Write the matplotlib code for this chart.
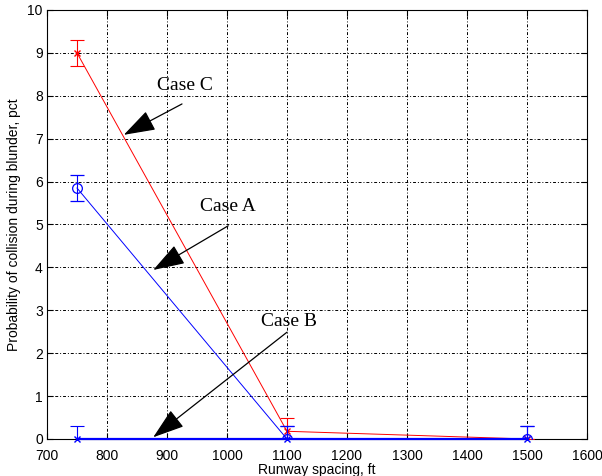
import matplotlib
matplotlib.use("Agg")
import matplotlib.pyplot as plt

spacing = [750, 1100, 1500]
case_c = [9.0, 0.18, 0.0]
case_c_err = [0.3, 0.3, 0.0]
case_a = [5.85, 0.0, 0.0]
case_a_err = [0.3, 0.3, 0.3]
case_b = [0.0, 0.0, 0.0]
case_b_err = [0.3, 0.3, 0.3]

xticks = [700, 800, 900, 1000, 1100, 1200, 1300, 1400, 1500, 1600]
yticks = list(range(0, 11))

# annotations: label, text position, arrow start, arrow tip
annots = [
    ("Case C", (930, 8.23), (925, 7.81), (828, 7.09)),
    ("Case A", (1002, 5.43), (1002, 4.97), (877, 3.94)),
    ("Case B", (1103, 2.73), (1100, 2.49), (877, 0.04)),
]

fig = plt.figure(figsize=(6.02, 4.76), dpi=100)
ax = fig.add_axes([47/602, 37/476, 540/602, 429/476])

ax.errorbar(spacing, case_c, yerr=case_c_err, color='red', marker='x', ms=4,
            lw=0.7, elinewidth=0.8, capsize=5, capthick=0.8, zorder=3)
ax.errorbar(spacing, case_a, yerr=case_a_err, color='blue', marker='o', ms=7,
            mfc='none', mew=0.9, lw=0.7, elinewidth=0.8, capsize=5, capthick=0.8, zorder=4)
cb = ax.errorbar(spacing, case_b, yerr=case_b_err, color='blue', marker='x', ms=4,
                 lw=1.6, elinewidth=0.8, capsize=5, capthick=0.8, zorder=5)
cb.lines[0].set_clip_on(False)

ax.set_xlim(700, 1600)
ax.set_ylim(0, 10)
ax.set_xticks(xticks)
ax.set_yticks(yticks)
ax.tick_params(direction='in', top=True, right=True, length=4, labelsize=10)
ax.tick_params(axis='y', pad=3)
ax.tick_params(axis='x', pad=7)
for lbl in ax.get_xticklabels() + ax.get_yticklabels():
    lbl.set_family('Liberation Sans')
ax.grid(True, color='black', linestyle=(0, (3, 2, 1, 2)), linewidth=0.7)
for s in ax.spines.values():
    s.set_linewidth(0.8)

ax.set_xlabel("Runway spacing, ft", family='Liberation Sans', fontsize=10, labelpad=0)
ax.set_ylabel("Probability of collision during blunder, pct", family='Liberation Sans',
              fontsize=10, labelpad=5)

for label, tpos, start, tip in annots:
    ax.text(tpos[0], tpos[1], label, family='Liberation Serif', fontsize=14,
            ha='center', va='center', zorder=6)
    ax.annotate("", xy=tip, xytext=start,
                arrowprops=dict(arrowstyle='-|>,head_length=1.8,head_width=0.6',
                                mutation_scale=11, color='black', lw=0.9,
                                shrinkA=0, shrinkB=0), zorder=6)

fig.savefig("out.png", dpi=100)
